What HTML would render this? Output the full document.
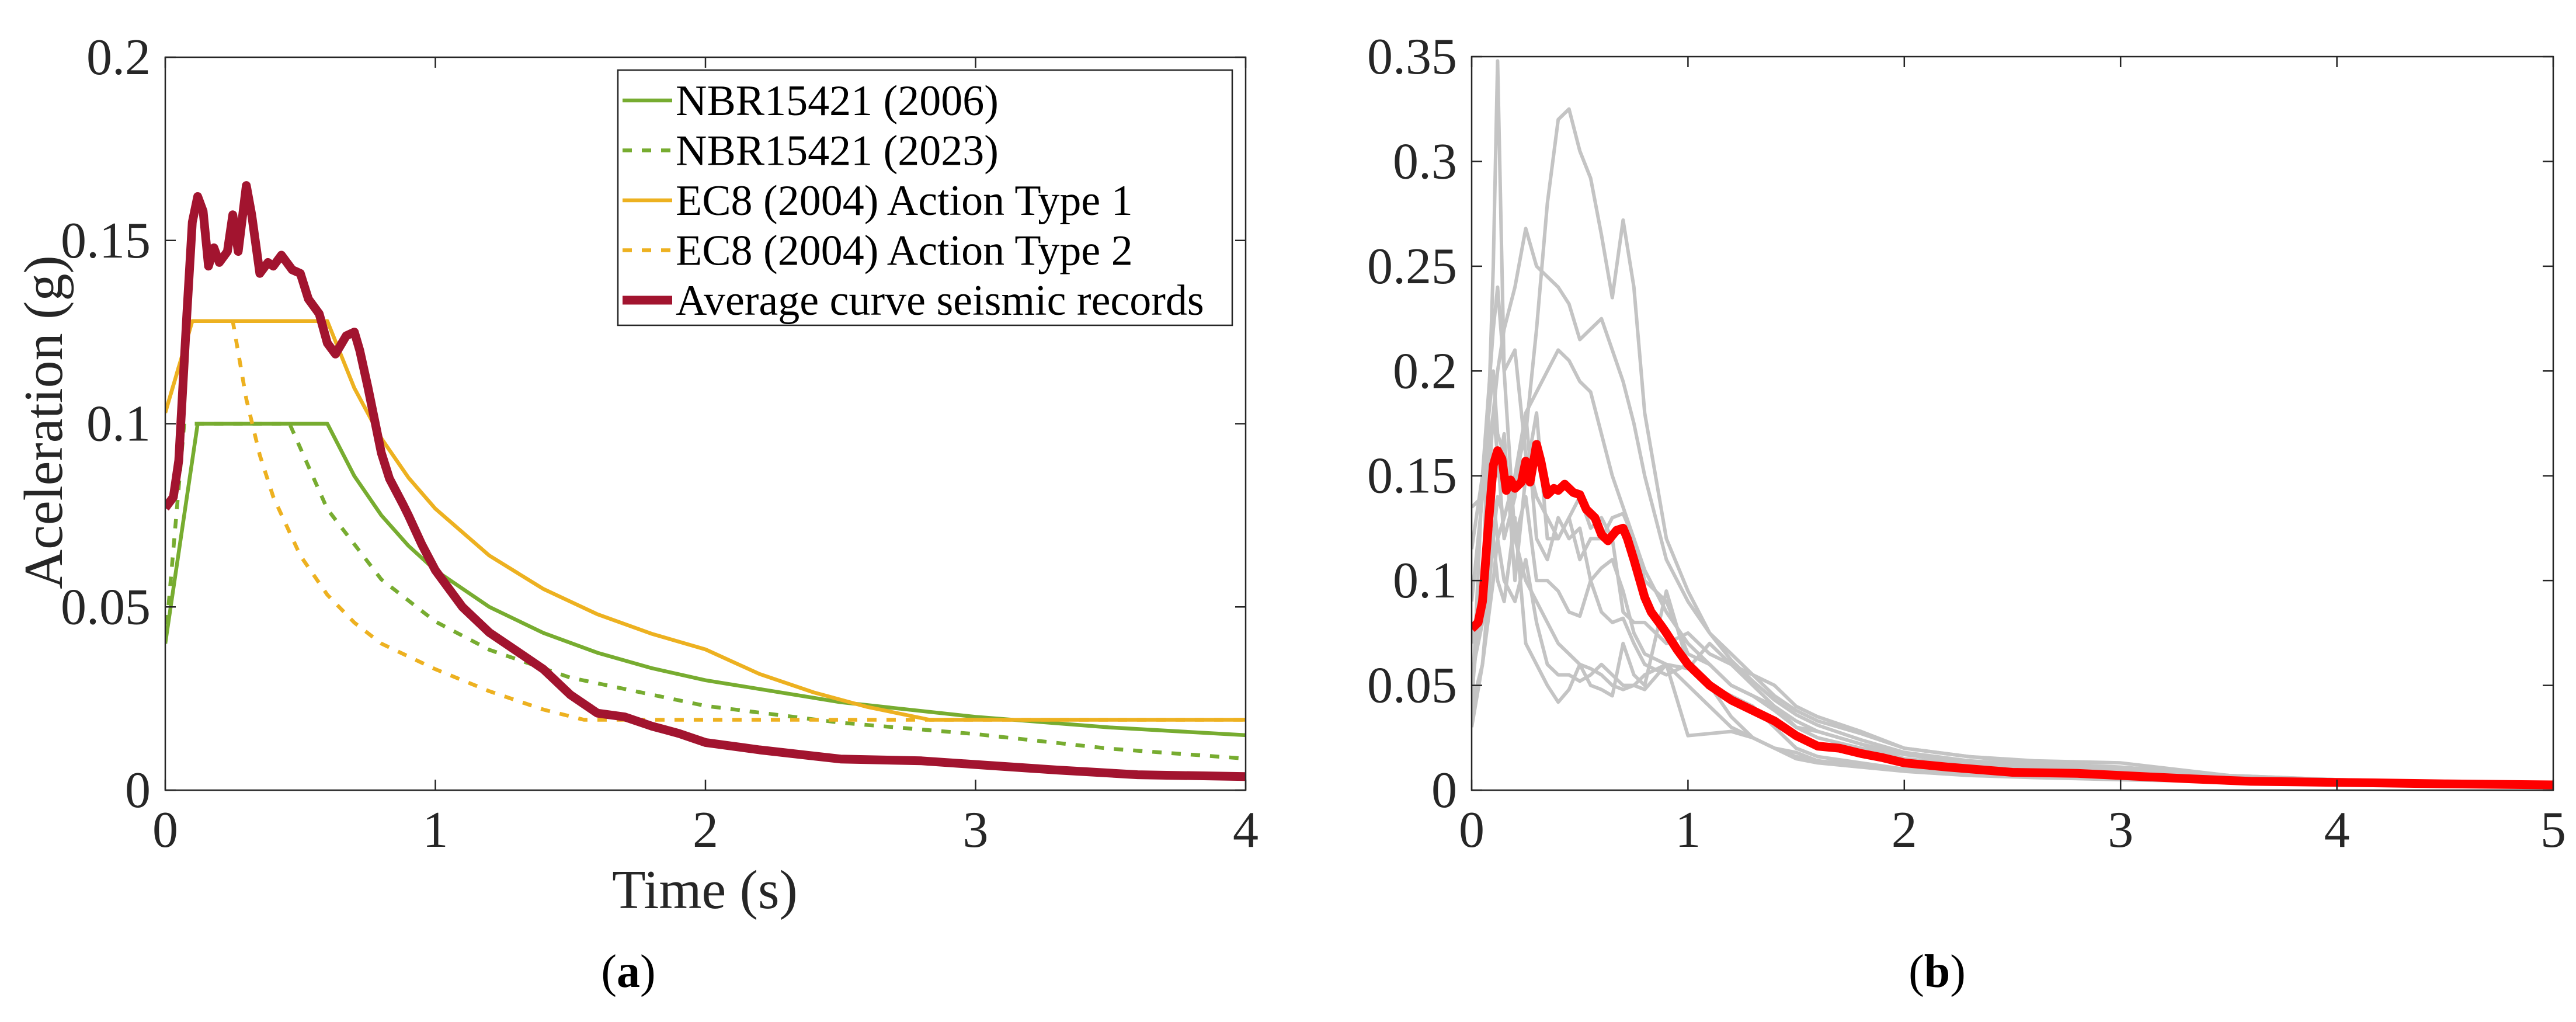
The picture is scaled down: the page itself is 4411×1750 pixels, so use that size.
<!DOCTYPE html>
<html><head><meta charset="utf-8"><style>
html,body{margin:0;padding:0;background:#fff;}
svg, svg text{font-family:"Liberation Serif","DejaVu Serif",serif;}
</style></head><body>
<svg id="fig" width="4411" height="1745" viewBox="0 0 4411 1745" xmlns="http://www.w3.org/2000/svg" font-family="Liberation Serif, DejaVu Serif, serif">
<defs>
<clipPath id="clipA"><rect x="283" y="98" width="1850" height="1255"/></clipPath>
<clipPath id="clipB"><rect x="2520" y="97" width="1852" height="1256"/></clipPath>
</defs>
<g id="gA"></g>
<g id="gB"></g>
</svg>
<script>
// ---- Chart (a) data ----
const nbr06T = [0,0.12,0.6,0.7,0.8,0.9,1,1.2,1.4,1.6,1.8,2,2.5,3,3.5,4];
const nbr06V = [0.04,0.1,0.1,0.0857,0.075,0.0667,0.06,0.05,0.0429,0.0375,0.0333,0.03,0.024,0.02,0.0171,0.015];
const nbr23T = [0,0.07,0.46,0.6,0.8,1,1.2,1.5,2,2.5,3,3.5,4];
const nbr23V = [0.04,0.1,0.1,0.0767,0.0575,0.046,0.0383,0.0307,0.023,0.0184,0.0153,0.0113,0.0086];
const ec1T = [0,0.1,0.6,0.7,0.8,0.9,1,1.2,1.4,1.6,1.8,2,2.2,2.4,2.6,2.83,3,4];
const ec1V = [0.103,0.128,0.128,0.1097,0.096,0.0853,0.0768,0.064,0.0549,0.048,0.0427,0.0384,0.0317,0.0267,0.0227,0.0192,0.0192,0.0192];
const ec2T = [0,0.1,0.25,0.3,0.35,0.4,0.5,0.6,0.7,0.8,1,1.2,1.4,1.55,2,3,4];
const ec2V = [0.103,0.128,0.128,0.1067,0.0914,0.08,0.064,0.0533,0.0457,0.04,0.033,0.027,0.022,0.0192,0.0192,0.0192,0.0192];
const avgT = [0,0.03,0.05,0.08,0.1,0.12,0.14,0.16,0.18,0.2,0.23,0.25,0.27,0.3,0.32,0.35,0.38,0.4,0.43,0.47,0.5,0.53,0.57,0.6,0.63,0.67,0.7,0.72,0.75,0.8,0.83,0.88,0.9,0.95,1,1.05,1.1,1.2,1.3,1.4,1.5,1.6,1.7,1.8,1.9,2,2.2,2.5,2.8,3,3.3,3.6,4,4.5,5];
const avgV = [0.077,0.08,0.09,0.13,0.155,0.162,0.158,0.143,0.148,0.144,0.147,0.157,0.147,0.165,0.157,0.141,0.144,0.143,0.146,0.142,0.141,0.134,0.13,0.122,0.119,0.124,0.125,0.12,0.11,0.092,0.085,0.078,0.075,0.067,0.06,0.055,0.05,0.043,0.038,0.033,0.026,0.021,0.02,0.0175,0.0155,0.013,0.011,0.0085,0.008,0.007,0.0055,0.0042,0.0037,0.003,0.0025];
const xTicksA = [0,1,2,3,4];
const yTicksA = [0,0.05,0.1,0.15,0.2];
const yTickLabelsA = ["0","0.05","0.1","0.15","0.2"];
const legendLabels = ["NBR15421 (2006)","NBR15421 (2023)","EC8 (2004) Action Type 1","EC8 (2004) Action Type 2","Average curve seismic records"];
// ---- Chart (b) data ----
const grayT = [0,0.05,0.1,0.12,0.15,0.2,0.25,0.3,0.35,0.4,0.45,0.5,0.55,0.6,0.65,0.7,0.75,0.8,0.9,1.0,1.1,1.2,1.3,1.4,1.5,1.6,1.8,2.0,2.3,2.6,3.0,3.5,4,5];
const grayA = [0.05,0.09,0.25,0.348,0.2,0.12,0.1,0.09,0.08,0.07,0.065,0.06,0.058,0.055,0.05,0.048,0.05,0.055,0.06,0.05,0.04,0.03,0.025,0.02,0.016,0.014,0.012,0.01,0.008,0.007,0.006,0.005,0.004,0.003];
const grayB = [0.04,0.06,0.1,0.12,0.13,0.15,0.17,0.22,0.28,0.32,0.325,0.305,0.292,0.265,0.235,0.272,0.24,0.18,0.12,0.095,0.075,0.062,0.052,0.043,0.036,0.031,0.024,0.018,0.014,0.012,0.01,0.006,0.004,0.003];
const grayC = [0.07,0.1,0.18,0.2,0.22,0.24,0.268,0.25,0.245,0.24,0.232,0.215,0.22,0.225,0.21,0.195,0.175,0.15,0.11,0.09,0.075,0.065,0.055,0.045,0.038,0.033,0.027,0.02,0.016,0.013,0.011,0.007,0.005,0.003];
const grayD = [0.055,0.08,0.12,0.14,0.13,0.15,0.18,0.19,0.2,0.21,0.205,0.195,0.19,0.17,0.15,0.135,0.12,0.105,0.085,0.07,0.06,0.05,0.045,0.04,0.033,0.028,0.022,0.017,0.013,0.011,0.009,0.006,0.004,0.003];
const grayE = [0.035,0.15,0.22,0.24,0.2,0.21,0.16,0.14,0.13,0.12,0.13,0.11,0.12,0.12,0.13,0.132,0.12,0.1,0.09,0.065,0.06,0.05,0.045,0.038,0.03,0.025,0.02,0.015,0.012,0.01,0.008,0.006,0.004,0.003];
const grayF = [0.03,0.06,0.12,0.1,0.09,0.13,0.07,0.06,0.05,0.042,0.048,0.06,0.05,0.048,0.045,0.07,0.055,0.05,0.095,0.06,0.05,0.045,0.04,0.03,0.02,0.016,0.013,0.01,0.008,0.007,0.006,0.005,0.004,0.003];
const grayG = [0.09,0.14,0.18,0.16,0.12,0.14,0.18,0.12,0.11,0.13,0.12,0.125,0.1,0.085,0.08,0.082,0.07,0.06,0.055,0.06,0.05,0.035,0.025,0.02,0.018,0.014,0.012,0.01,0.008,0.007,0.006,0.005,0.004,0.003];
const grayH = [0.045,0.1,0.14,0.12,0.1,0.09,0.11,0.08,0.06,0.055,0.055,0.052,0.055,0.06,0.055,0.05,0.05,0.048,0.06,0.026,0.027,0.028,0.025,0.02,0.015,0.013,0.011,0.009,0.007,0.006,0.005,0.004,0.004,0.003];
const grayI = [0.115,0.15,0.2,0.17,0.16,0.12,0.14,0.1,0.1,0.095,0.085,0.083,0.1,0.106,0.11,0.095,0.075,0.065,0.06,0.058,0.07,0.06,0.055,0.05,0.04,0.035,0.028,0.02,0.016,0.014,0.013,0.007,0.005,0.003];
const grayJ = [0.135,0.14,0.16,0.15,0.17,0.1,0.15,0.18,0.12,0.12,0.13,0.14,0.125,0.13,0.12,0.085,0.08,0.08,0.07,0.075,0.065,0.06,0.05,0.04,0.03,0.028,0.022,0.015,0.012,0.01,0.008,0.006,0.004,0.003];
const xTicksB = [0,1,2,3,4,5];
const yTicksB = [0,0.05,0.1,0.15,0.2,0.25,0.3,0.35];
const yTickLabelsB = ["0","0.05","0.1","0.15","0.2","0.25","0.3","0.35"];

const NS = "http://www.w3.org/2000/svg";
const FF = "Liberation Serif, DejaVu Serif, serif";
function mk(parent, tag, attrs, text){
  const e = document.createElementNS(NS, tag);
  for (const k in attrs) e.setAttribute(k, attrs[k]);
  if (tag === "text") e.setAttribute("font-family", FF);
  if (text !== undefined) e.textContent = text;
  parent.appendChild(e);
  return e;
}
function pathD(T, V, sx, sy){
  return T.map((t,i)=>(i?"L":"M")+sx(t).toFixed(1)+" "+sy(V[i]).toFixed(1)).join(" ");
}
function axes(g, L, R, Tp, B, xt, yt, ytl, sx, sy){
  for (let i=0;i<xt.length;i++){
    const x = sx(xt[i]);
    let t = mk(g,"line",{x1:x,y1:B,x2:x,y2:B-18,stroke:"#262626","stroke-width":2.5});
    
    
    mk(g,"line",{x1:x,y1:Tp,x2:x,y2:Tp+18,stroke:"#262626","stroke-width":2.5});
    let l = mk(g,"text",{x:x,y:B+97,"font-size":88,"text-anchor":"middle",fill:"#262626"}, String(xt[i]));
    
    
  }
  for (let i=0;i<yt.length;i++){
    const y = sy(yt[i]);
    let t = mk(g,"line",{x1:L,y1:y,x2:L+18,y2:y,stroke:"#262626","stroke-width":2.5});
    
    
    mk(g,"line",{x1:R,y1:y,x2:R-18,y2:y,stroke:"#262626","stroke-width":2.5});
    let l = mk(g,"text",{x:L-25,y:y+29,"font-size":88,"text-anchor":"end",fill:"#262626"}, ytl[i]);
    
    
  }
  let box = mk(g,"rect",{x:L,y:Tp,width:R-L,height:B-Tp,fill:"none",stroke:"#262626","stroke-width":2.5});
  
  
}

// ---- Chart (a) ----
(function(){
  const g = document.getElementById("gA");
  const L=283,R=2133,Tp=98,B=1353;
  const sx = t => L + t/4*(R-L);
  const sy = v => B - v/0.2*(B-Tp);
  const lines = mk(g,"g",{"clip-path":"url(#clipA)"});
  const series = [
    [nbr06T,nbr06V,"#77AC30",6.5,null,"series-nbr-2006"],
    [nbr23T,nbr23V,"#77AC30",6.5,"16 17","series-nbr-2023"],
    [ec1T,ec1V,"#EDB120",6.5,null,"series-ec8-type1"],
    [ec2T,ec2V,"#EDB120",6.5,"16 17","series-ec8-type2"],
    [avgT,avgV,"#A2142F",15,null,"series-average"]
  ];
  series.forEach(s=>{
    const p = mk(lines,"path",{d:pathD(s[0],s[1],sx,sy),fill:"none",stroke:s[2],"stroke-width":s[3],"stroke-linejoin":"round"});
    if (s[4]) p.setAttribute("stroke-dasharray", s[4]);
    
    
  });
  axes(g,L,R,Tp,B,xTicksA,yTicksA,yTickLabelsA,sx,sy);
  const lg = mk(g,"g",{});
  
  
  mk(lg,"rect",{x:1058,y:120,width:1052,height:437,fill:"#fff",stroke:"#262626","stroke-width":2.5});
  for (let i=0;i<legendLabels.length;i++){
    const y = 172 + i*85.5;
    const s = series[i];
    const ln = mk(lg,"line",{x1:1066,y1:y,x2:1151,y2:y,stroke:s[2],"stroke-width":s[3]});
    if (s[4]) ln.setAttribute("stroke-dasharray","16 17");
    const t = mk(lg,"text",{x:1157,y:y+25,"font-size":74,fill:"#000"}, legendLabels[i]);
    
    
  }
  let xl = mk(g,"text",{x:1207,y:1555,"font-size":94,"text-anchor":"middle",fill:"#262626"},"Time (s)");
  
  
  let yl = mk(g,"text",{x:0,y:0,"font-size":94,"text-anchor":"middle",fill:"#262626",transform:"translate(106,723) rotate(-90)"},"Aceleration (g)");
  
  
  let cap = mk(g,"text",{x:1076,y:1690,"font-size":80,"text-anchor":"middle",fill:"#000"});
  
  
  mk(cap,"tspan",{},"(");
  mk(cap,"tspan",{"font-weight":"bold"},"a");
  mk(cap,"tspan",{},")");
})();

// ---- Chart (b) ----
(function(){
  const g = document.getElementById("gB");
  const L=2520,R=4372,Tp=97,B=1353;
  const sx = t => L + t/5*(R-L);
  const sy = v => B - v/0.35*(B-Tp);
  const lines = mk(g,"g",{"clip-path":"url(#clipB)"});
  [grayA,grayB,grayC,grayD,grayE,grayF,grayG,grayH,grayI,grayJ].forEach(v=>{
    const p = mk(lines,"path",{d:pathD(grayT,v,sx,sy),fill:"none",stroke:"#c4c4c4","stroke-width":6,"stroke-linejoin":"round"});
    
    
  });
  const p = mk(lines,"path",{d:pathD(avgT,avgV,sx,sy),fill:"none",stroke:"#FF0000","stroke-width":15,"stroke-linejoin":"round"});
  
  
  axes(g,L,R,Tp,B,xTicksB,yTicksB,yTickLabelsB,sx,sy);
  let cap = mk(g,"text",{x:3317,y:1690,"font-size":80,"text-anchor":"middle",fill:"#000"});
  
  
  mk(cap,"tspan",{},"(");
  mk(cap,"tspan",{"font-weight":"bold"},"b");
  mk(cap,"tspan",{},")");
})();
</script>
</body></html>
